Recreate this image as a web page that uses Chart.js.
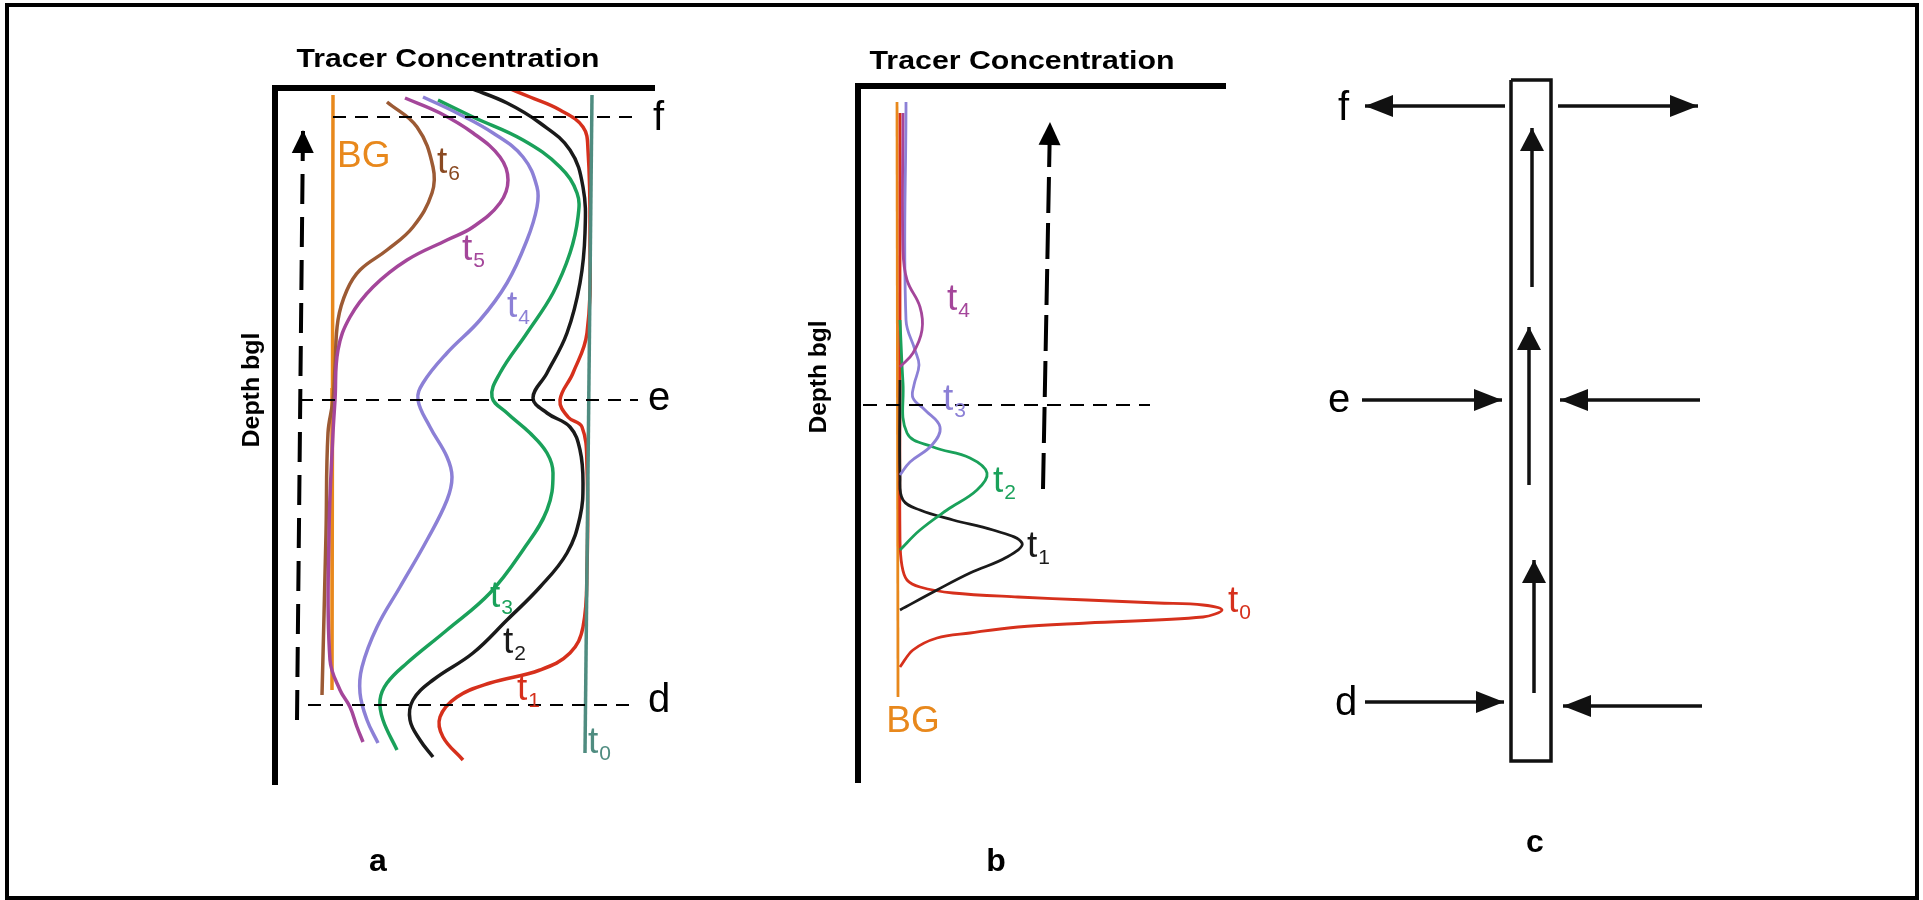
<!DOCTYPE html>
<html><head><meta charset="utf-8">
<script src="https://cdn.jsdelivr.net/npm/chart.js@4/dist/chart.umd.min.js"></script>
<style>
html,body{margin:0;padding:0;background:#fff;}
body{width:1923px;height:900px;position:relative;overflow:hidden;}
canvas{position:absolute;left:0;top:0;}
#frame{position:absolute;left:5px;top:3px;width:1914px;height:897px;border:4px solid #000;box-sizing:border-box;}
</style></head><body>
<div id="frame"></div>
<canvas id="ca" width="1923" height="900"></canvas>
<canvas id="cb" width="1923" height="900"></canvas>
<canvas id="cc" width="1923" height="900"></canvas>
<script>
// ---------- Panel a : tracer concentration (arbitrary units) vs depth ----------
const aBgConc = [58, 57.5, 57];
const aBgDepth = [7, 300, 602];
const aT0Conc = [317, 310];
const aT0Depth = [7, 665];
const aT1Conc = [233,255,285,308,313,315,312,298,285,293,307,312,312,308,295,265,215,182,165,168,188];
const aT1Depth = [0,9,22,39,62,145,245,285,312,329,339,379,479,539,565,582,595,609,629,649,672];
const aT2Conc = [195,232,265,295,308,310,305,292,272,258,272,295,305,308,305,292,265,232,198,158,138,135,145,158];
const aT2Depth = [0,15,35,62,99,145,195,245,285,310,325,339,362,395,429,465,499,532,565,592,612,632,652,669];
const aT3Conc = [163,198,248,285,302,303,295,278,252,225,217,232,255,272,278,272,248,215,172,132,112,105,108,122];
const aT3Depth = [12,29,52,79,105,129,165,205,245,285,309,325,345,365,385,422,462,505,542,575,595,612,632,662];
const aT4Conc = [148,182,218,248,262,262,252,232,205,172,148,143,155,172,177,172,152,125,102,87,85,92,103];
const aT4Depth = [9,25,45,69,99,119,152,195,232,265,295,312,339,369,389,412,452,499,539,579,605,632,655];
const aT5Conc = [130,165,198,225,233,225,198,172,132,98,75,63,60,58,54,55,65,75,82,88];
const aT5Depth = [10,25,45,69,92,115,139,152,172,199,229,262,312,345,445,572,602,619,639,654];
const aT6Conc = [112,142,158,157,138,112,85,72,63,60,58,53,51,47];
const aT6Depth = [14,39,79,105,139,162,182,202,232,279,312,345,445,607];
const aLevelNames = ['f','e','d'];
const aLevelDepth = [29, 312, 617];
const aLevelFrom = [58, 25, 33];
const aLevelTo = [360, 363, 362];
const aFlowConc = [22, 28];
const aFlowDepth = [632, 42];

// ---------- Panel b ----------
const bBgConc = [39, 40];
const bBgDepth = [16, 611];
const bT0Conc = [42,42,42,44,49,62,95,160,229,300,345,364,345,229,160,112,79,55,42];
const bT0Depth = [27,300,454,480,494,501,507,511,514,517,519,524,531,537,541,547,552,564,581];
const bT1Conc = [42,42,45,62,95,135,164,149,112,79,42];
const bT1Depth = [294,391,414,424,434,444,457,471,487,504,524];
const bT2Conc = [42,45,49,75,112,129,119,89,62,42];
const bT2Depth = [234,297,347,361,372,387,404,424,444,464];
const bT3Conc = [48,48,57,61,56,55,67,82,74,52,42];
const bT3Depth = [16,234,264,279,299,312,324,341,359,376,389];
const bT4Conc = [45,45,49,62,64,55,42];
const bT4Depth = [27,164,194,221,244,267,281];
const bLevelDepth = [319];
const bLevelFrom = [5];
const bLevelTo = [292];
const bFlowConc = [185, 192];
const bFlowDepth = [403, 36];

// ---------- Panel c : well schematic ----------
const cWellX = [211, 251, 251, 211, 211];
const cWellY = [40, 40, 721, 721, 40];
const cUpX = [232, 229, 234];
const cUpFrom = [247, 445, 653];
const cUpTo = [88, 287, 520];
const cLevelNames = ['f','e','d'];
const cLeftDepth = [66, 360, 662];
const cLeftFrom = [205, 62, 65];
const cLeftTo = [65, 202, 204];
const cRightDepth = [66, 360, 666];
const cRightFrom = [258, 400, 402];
const cRightTo = [398, 260, 263];

const COL = {bg:'#e8881c', t0a:'#4f8c80', t1:'#d6301c', t2:'#1a1a1a', t3:'#1aa15a', t4:'#8c80d6', t5:'#a4469a', t6:'#9c5a34', t6l:'#8a4a22'};
const FONT = '"Liberation Sans", Arial, sans-serif';

const decorPlugin = {
  id: 'decor',
  afterDatasetsDraw(chart, args, opts) {
    const ctx = chart.ctx, xs = chart.scales.x, ys = chart.scales.y;
    const X = v => xs.getPixelForValue(v), Y = v => ys.getPixelForValue(v);
    ctx.save();
    chart.data.datasets.forEach((ds, i) => {
      if (!ds.arrowHead) return;
      const pts = chart.getDatasetMeta(i).data, n = pts.length;
      const a = pts[n-2], b = pts[n-1];
      const ang = Math.atan2(b.y - a.y, b.x - a.x);
      const L = ds.arrowHead.len, W = ds.arrowHead.half;
      const c = Math.cos(ang), s = Math.sin(ang);
      ctx.fillStyle = ds.borderColor;
      ctx.beginPath();
      ctx.moveTo(b.x, b.y);
      ctx.lineTo(b.x - L*c + W*s, b.y - L*s - W*c);
      ctx.lineTo(b.x - L*c - W*s, b.y - L*s + W*c);
      ctx.closePath(); ctx.fill();
    });
    if (opts.axes) {
      const ca = chart.chartArea;
      ctx.strokeStyle = '#000'; ctx.lineWidth = opts.axes; ctx.lineJoin = 'miter'; ctx.lineCap = 'butt';
      ctx.beginPath(); ctx.moveTo(ca.right, ca.top); ctx.lineTo(ca.left, ca.top); ctx.lineTo(ca.left, ca.bottom); ctx.stroke();
    }
    (opts.texts || []).forEach(t => {
      ctx.save();
      ctx.fillStyle = t.color || '#000';
      ctx.font = (t.bold ? 'bold ' : '') + t.size + 'px ' + FONT;
      ctx.textAlign = t.align || 'left';
      ctx.textBaseline = t.base || 'alphabetic';
      ctx.translate(X(t.x), Y(t.y));
      if (t.rot) ctx.rotate(t.rot * Math.PI / 180);
      if (t.width) { const w = ctx.measureText(t.t).width; ctx.scale(t.width / w, 1); }
      ctx.fillText(t.t, 0, 0);
      if (t.sub) {
        const w = ctx.measureText(t.t).width;
        ctx.font = Math.round(t.size * 0.57) + 'px ' + FONT;
        ctx.textAlign = 'left';
        ctx.fillText(t.sub, w + 1, t.size * 0.19);
      }
      ctx.restore();
    });
    ctx.restore();
  }
};

function line(xv, yv, color, width, extra) {
  return Object.assign({
    data: xv.map((v, i) => ({x: v, y: yv[i]})),
    borderColor: color, backgroundColor: color, borderWidth: width,
    showLine: true, pointRadius: 0, tension: 0.4, fill: false, clip: false
  }, extra || {});
}

function makeChart(id, pad, xMax, yMax, datasets, decor) {
  return new Chart(document.getElementById(id), {
    type: 'scatter',
    data: {datasets},
    options: {
      responsive: false, animation: false, devicePixelRatio: 1, events: [],
      layout: {padding: pad},
      scales: {
        x: {type: 'linear', display: false, min: 0, max: xMax},
        y: {type: 'linear', display: false, min: 0, max: yMax, reverse: true}
      },
      plugins: {legend: {display: false}, tooltip: {enabled: false}, decor}
    },
    plugins: [decorPlugin]
  });
}

// Panel a
const aSets = [];
aLevelNames.forEach((n, i) => aSets.push(line([aLevelFrom[i], aLevelTo[i]], [aLevelDepth[i], aLevelDepth[i]], '#000', 2, {tension: 0, borderDash: [13, 9]})));
aSets.push(line(aFlowConc, aFlowDepth, '#000', 4, {tension: 0, borderDash: [30, 13], arrowHead: {len: 23, half: 11}}));
aSets.push(line(aT0Conc, aT0Depth, COL.t0a, 3.5, {tension: 0}));
aSets.push(line(aT1Conc, aT1Depth, COL.t1, 3.5));
aSets.push(line(aT2Conc, aT2Depth, COL.t2, 3.5));
aSets.push(line(aT3Conc, aT3Depth, COL.t3, 3.5));
aSets.push(line(aT4Conc, aT4Depth, COL.t4, 3.5));
aSets.push(line(aT5Conc, aT5Depth, COL.t5, 3.5));
aSets.push(line(aT6Conc, aT6Depth, COL.t6, 3.5));
aSets.push(line(aBgConc, aBgDepth, COL.bg, 3.5, {tension: 0}));

makeChart('ca', {left: 275, top: 88, right: 1268, bottom: 115}, 380, 697, aSets, {
  axes: 6,
  texts: [
    {t: 'Tracer Concentration', x: 173, y: -28, size: 25, bold: true, align: 'center', base: 'middle', width: 303},
    {t: 'Depth bgl', x: -23, y: 302, size: 24, bold: true, align: 'center', base: 'middle', rot: -90, width: 115},
    {t: 'BG', x: 62, y: 79, size: 37, color: COL.bg},
    {t: 't', sub: '6', x: 162, y: 85, size: 37, color: COL.t6l},
    {t: 't', sub: '5', x: 187, y: 172, size: 37, color: COL.t5},
    {t: 't', sub: '4', x: 232, y: 229, size: 37, color: COL.t4},
    {t: 't', sub: '3', x: 215, y: 519, size: 37, color: COL.t3},
    {t: 't', sub: '2', x: 228, y: 565, size: 37, color: COL.t2},
    {t: 't', sub: '1', x: 242, y: 612, size: 37, color: COL.t1},
    {t: 't', sub: '0', x: 313, y: 665, size: 37, color: COL.t0a},
    {t: aLevelNames[0], x: 378, y: 42, size: 40},
    {t: aLevelNames[1], x: 373, y: 322, size: 40},
    {t: aLevelNames[2], x: 373, y: 624, size: 40},
    {t: 'a', x: 103, y: 774, size: 32, bold: true, align: 'center', base: 'middle'}
  ]
});

// Panel b
const bSets = [];
bSets.push(line([bLevelFrom[0], bLevelTo[0]], [bLevelDepth[0], bLevelDepth[0]], '#000', 2, {tension: 0, borderDash: [14, 9]}));
bSets.push(line(bFlowConc, bFlowDepth, '#000', 4, {tension: 0, borderDash: [36, 10], arrowHead: {len: 23, half: 11}}));
bSets.push(line(bT4Conc, bT4Depth, COL.t5, 2.8));
bSets.push(line(bT3Conc, bT3Depth, COL.t4, 2.8));
bSets.push(line(bT2Conc, bT2Depth, COL.t3, 2.8));
bSets.push(line(bT1Conc, bT1Depth, COL.t2, 2.8));
bSets.push(line(bT0Conc, bT0Depth, COL.t1, 2.8, {tension: 0.35}));
bSets.push(line(bBgConc, bBgDepth, COL.bg, 2.8, {tension: 0}));

makeChart('cb', {left: 858, top: 86, right: 697, bottom: 117}, 368, 697, bSets, {
  axes: 6,
  texts: [
    {t: 'Tracer Concentration', x: 164, y: -24, size: 25, bold: true, align: 'center', base: 'middle', width: 305},
    {t: 'Depth bgl', x: -39, y: 291, size: 24, bold: true, align: 'center', base: 'middle', rot: -90, width: 113},
    {t: 'BG', x: 55, y: 636, size: 37, color: COL.bg, align: 'center', base: 'middle'},
    {t: 't', sub: '4', x: 89, y: 224, size: 37, color: COL.t5},
    {t: 't', sub: '3', x: 85, y: 324, size: 37, color: COL.t4},
    {t: 't', sub: '2', x: 135, y: 406, size: 37, color: COL.t3},
    {t: 't', sub: '1', x: 169, y: 471, size: 37, color: COL.t2},
    {t: 't', sub: '0', x: 370, y: 526, size: 37, color: COL.t1},
    {t: 'b', x: 138, y: 776, size: 32, bold: true, align: 'center', base: 'middle'}
  ]
});

// Panel c
const cSets = [];
cSets.push(line(cWellX, cWellY, '#111', 3.5, {tension: 0}));
cUpX.forEach((x, i) => cSets.push(line([x, x], [cUpFrom[i], cUpTo[i]], '#111', 3.5, {tension: 0, arrowHead: {len: 23, half: 12}})));
cLevelNames.forEach((n, i) => {
  cSets.push(line([cLeftFrom[i], cLeftTo[i]], [cLeftDepth[i], cLeftDepth[i]], '#111', 3.5, {tension: 0, arrowHead: {len: 28, half: 11}}));
  cSets.push(line([cRightFrom[i], cRightTo[i]], [cRightDepth[i], cRightDepth[i]], '#111', 3.5, {tension: 0, arrowHead: {len: 28, half: 11}}));
});

makeChart('cc', {left: 1300, top: 40, right: 163, bottom: 20}, 460, 840, cSets, {
  texts: [
    {t: cLevelNames[0], x: 38, y: 80, size: 40},
    {t: cLevelNames[1], x: 28, y: 372, size: 40},
    {t: cLevelNames[2], x: 35, y: 675, size: 40},
    {t: 'c', x: 235, y: 803, size: 32, bold: true, align: 'center', base: 'middle'}
  ]
});
</script>
</body></html>
